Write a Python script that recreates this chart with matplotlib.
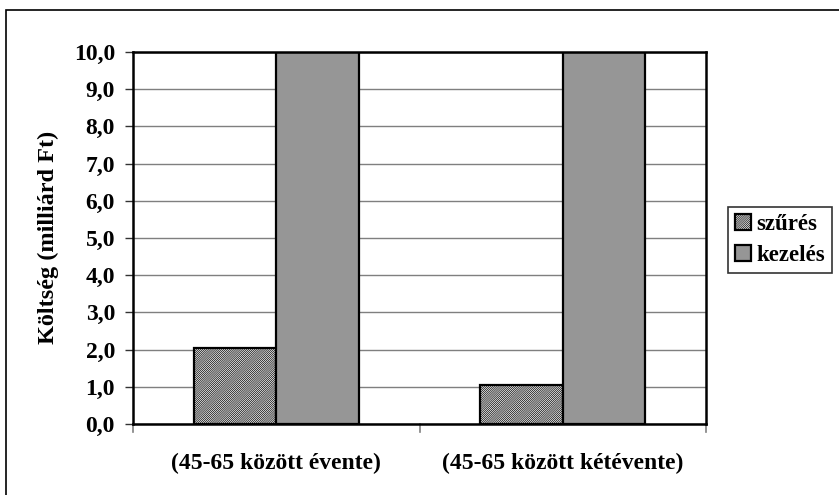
import matplotlib
matplotlib.use("Agg")
import matplotlib.pyplot as plt
import numpy as np
from matplotlib.patches import Rectangle

plt.rcParams['font.family'] = ['Liberation Serif', 'DejaVu Serif']
plt.rcParams['font.weight'] = 'bold'
plt.rcParams['hatch.linewidth'] = 0.5
plt.rcParams['hatch.color'] = '#333333'

categories = ["(45-65 között évente)", "(45-65 között kétévente)"]
series_names = ["szűrés", "kezelés"]
szures = [2.05, 1.05]
kezeles = [10.0, 10.0]
y_ticks = [0, 1, 2, 3, 4, 5, 6, 7, 8, 9, 10]
y_tick_labels = ["0,0", "1,0", "2,0", "3,0", "4,0", "5,0", "6,0", "7,0", "8,0", "9,0", "10,0"]
y_label = "Költség (milliárd Ft)"

W, H = 839, 495
fig = plt.figure(figsize=(W / 100, H / 100), dpi=100)
ax = fig.add_axes([133 / W, 1 - 424 / H, (706 - 133) / W, (424 - 52) / H])

x = np.arange(len(categories))
bw = 0.288
ax.bar(x - bw / 2, szures, bw, color='white', edgecolor='black', hatch='/' * 16,
       linewidth=1.6, zorder=3, label=series_names[0])
ax.bar(x + bw / 2, kezeles, bw, color='#969696', edgecolor='black',
       linewidth=1.6, zorder=3, label=series_names[1])

ax.set_xlim(-0.5, len(categories) - 0.5)
ax.set_ylim(0, 10)
ax.set_yticks(y_ticks)
ax.set_yticklabels(y_tick_labels, fontsize=17, fontweight='bold')
ax.yaxis.grid(True, color='#7f7f7f', linewidth=1.0, zorder=0)
ax.tick_params(axis='y', direction='out', length=6, width=1, color='#333333', pad=7)

# category labels centred under each group, ticks at group boundaries
ax.set_xticks(x)
ax.set_xticklabels(categories, fontsize=17, fontweight='bold')
ax.tick_params(axis='x', length=0, pad=21)
for b in np.arange(-0.5, len(categories), 1.0):
    ax.plot([b, b], [0, -0.22], color='#808080', linewidth=1.2, clip_on=False, zorder=4)

for s in ax.spines.values():
    s.set_linewidth(1.8)
    s.set_color('black')
    s.set_zorder(5)

fig.text(48 / W, 1 - 237 / H, y_label, rotation=90, ha='center', va='center',
         fontsize=17.5, fontweight='bold')

leg = fig.legend(loc='upper left', bbox_to_anchor=(728 / W, 1 - 207 / H),
                 fontsize=16.5, frameon=True, fancybox=False, borderpad=0.3,
                 handlelength=0.7, handleheight=0.7, handletextpad=0.25,
                 labelspacing=0.45, borderaxespad=0)
leg.get_frame().set_edgecolor('black')
leg.get_frame().set_linewidth(1.2)
for t in leg.get_texts():
    t.set_fontweight('bold')

# outer chart frame
fig.patches.append(Rectangle((6 / W, -0.05), 1.1, 1 - 10 / H + 0.05,
                             transform=fig.transFigure, fill=False,
                             edgecolor='black', linewidth=1.2))

fig.savefig("out.png", dpi=100)
